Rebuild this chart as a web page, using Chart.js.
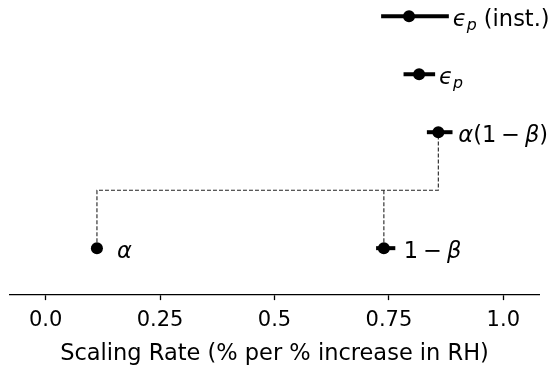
<!DOCTYPE html>
<html>
<head>
<meta charset="utf-8">
<script src="https://cdn.jsdelivr.net/npm/chart.js@4.4.0/dist/chart.umd.min.js"></script>
<style>
html,body{margin:0;padding:0;background:#fff;}
#wrap{width:551px;height:367px;position:relative;}
</style>
</head>
<body>
<div id="wrap"><canvas id="c" width="551" height="367"></canvas></div>
<script>
// ---- data ----
const names   = ['eps_inst', 'eps', 'alpha_1mbeta', 'alpha', 'one_minus_beta'];
const centers = [0.794, 0.816, 0.858, 0.112, 0.739];
const lows    = [0.733, 0.782, 0.833, 0.100, 0.722];
const highs   = [0.881, 0.851, 0.889, 0.122, 0.764];
const rows    = [4, 3, 2, 0, 0];
const bracketRow = 1;
const tickValues = [0, 0.25, 0.5, 0.75, 1.0];
const tickLabels = ['0.0', '0.25', '0.5', '0.75', '1.0'];
const xTitle = 'Scaling Rate (% per % increase in RH)';
// label text pieces (i = italic math, s = subscript, op = binary operator)
const labelParts = [
  [{t:'ϵ',i:1},{t:'p',i:1,s:1},{t:' (inst.)'}],
  [{t:'ϵ',i:1},{t:'p',i:1,s:1}],
  [{t:'α',i:1},{t:'(1'},{t:'−',op:1},{t:'β',i:1},{t:')'}],
  [{t:'α',i:1}],
  [{t:'1'},{t:'−',op:1},{t:'β',i:1}]
];

const FONT = 'DejaVu Sans';
const FS = 21;
const LFS = 22.5;

// bracket lines built from the data
const iA = 3, iB = 4, iAB = 2;
const bracket1 = [
  {x: centers[iA], y: rows[iA]},
  {x: centers[iA], y: bracketRow},
  {x: centers[iAB], y: bracketRow},
  {x: centers[iAB], y: rows[iAB]}
];
const bracket2 = [
  {x: centers[iB], y: rows[iB]},
  {x: centers[iB], y: bracketRow}
];
const points = centers.map((c, k) => ({x: c, y: rows[k]}));

const errPlugin = {
  id: 'errbars',
  beforeDatasetDraw(chart, args) {
    if (args.index !== 2) return;
    const ctx = chart.ctx, xs = chart.scales.x, ys = chart.scales.y;
    ctx.save();
    ctx.strokeStyle = '#000';
    ctx.lineWidth = 4;
    ctx.lineCap = 'butt';
    for (let k = 0; k < centers.length; k++) {
      const y = ys.getPixelForValue(rows[k]);
      ctx.beginPath();
      ctx.moveTo(xs.getPixelForValue(lows[k]), y);
      ctx.lineTo(xs.getPixelForValue(highs[k]), y);
      ctx.stroke();
    }
    ctx.restore();
  },
  afterDatasetsDraw(chart) {
    const ctx = chart.ctx, xs = chart.scales.x, ys = chart.scales.y;
    ctx.save();
    ctx.fillStyle = '#000';
    ctx.textBaseline = 'alphabetic';
    ctx.textAlign = 'left';
    for (let k = 0; k < centers.length; k++) {
      const y = ys.getPixelForValue(rows[k]) + 9.5;
      let x = Math.max(xs.getPixelForValue(highs[k]) + 4, xs.getPixelForValue(centers[k]) + 20);
      for (const p of labelParts[k]) {
        const size = p.s ? LFS * 0.7 : LFS;
        ctx.font = (p.i ? 'oblique ' : '') + size + 'px "' + FONT + '"';
        if (p.op) x += LFS * 0.22;
        ctx.fillText(p.t, x, y + (p.s ? 4 : 0));
        x += ctx.measureText(p.t).width;
        if (p.op) x += LFS * 0.22;
      }
    }
    ctx.restore();
  }
};

new Chart(document.getElementById('c'), {
  type: 'scatter',
  data: {
    datasets: [
      {
        type: 'line', data: bracket1, showLine: true, fill: false,
        borderColor: '#222', borderWidth: 1.1, borderDash: [4, 2],
        pointRadius: 0, tension: 0, order: 3
      },
      {
        type: 'line', data: bracket2, showLine: true, fill: false,
        borderColor: '#222', borderWidth: 1.1, borderDash: [4, 2],
        pointRadius: 0, tension: 0, order: 2
      },
      {
        type: 'scatter', data: points,
        pointRadius: 6, pointBackgroundColor: '#000', pointBorderWidth: 0,
        pointBorderColor: '#000', order: 1
      }
    ]
  },
  options: {
    responsive: false,
    animation: false,
    events: [],
    layout: { autoPadding: false, padding: { left: 10, right: 12, top: 0, bottom: 0 } },
    plugins: { legend: { display: false }, tooltip: { enabled: false } },
    scales: {
      x: {
        type: 'linear', min: -0.078, max: 1.078,
        afterBuildTicks: (axis) => { axis.ticks = tickValues.map(v => ({ value: v })); },
        ticks: {
          callback: (v) => { const k = tickValues.indexOf(v); return k >= 0 ? tickLabels[k] : ''; },
          color: '#000', font: { family: FONT, size: FS, lineHeight: 1.0 }, padding: 10,
          maxRotation: 0, autoSkip: false
        },
        grid: { drawOnChartArea: false, drawTicks: true, tickLength: 5, tickColor: '#000', tickWidth: 1.3 },
        border: { display: true, color: '#000', width: 1.3 },
        title: {
          display: true, text: xTitle, color: '#000',
          font: { family: FONT, size: 22.5, lineHeight: 1.15 }, padding: { top: 0, bottom: 0 }
        }
      },
      y: {
        type: 'linear', min: -0.81, max: 4.28, display: false
      }
    }
  },
  plugins: [errPlugin]
});
</script>
</body>
</html>
